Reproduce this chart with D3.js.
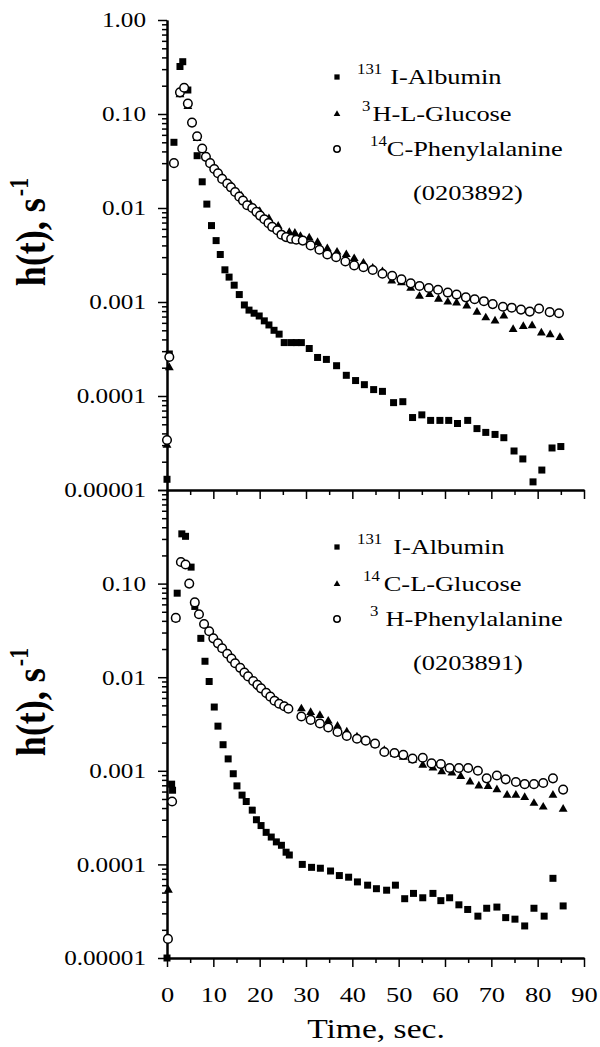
<!DOCTYPE html>
<html>
<head>
<meta charset="utf-8">
<script src="https://cdn.jsdelivr.net/npm/d3@7"></script>
<style>
  body { margin: 0; background: #fff; }
  svg { display: block; }
</style>
</head>
<body>
<div id="chart"></div>
<script>
// ---- data (time in s, h(t) in 1/s) ----

// upper panel, run 0203892
const albTopT = [0, 0.5, 1.5, 2.8, 3.4, 4.5, 6.5, 7.6, 8.6, 9.6, 10.6, 11.5, 12.5, 13.4, 14.5, 15.6, 16.7, 17.7, 18.8, 19.9, 21, 22, 23.1, 24.2, 25.3, 26.8, 27.9, 29, 30.7, 32.5, 34.4, 36.6, 38.7, 40.7, 42.6, 44.6, 46.5, 48.9, 50.9, 53, 55, 56.9, 58.9, 60.8, 62.7, 64.9, 66.9, 68.8, 70.8, 72.7, 74.9, 76.8, 79, 80.9, 83.1, 85]
const albTopV = [1.3e-5, 2.8e-4, 0.05, 0.32, 0.36, 0.18, 0.036, 0.019, 0.011, 0.0065, 0.0045, 0.0032, 0.0022, 0.00184, 0.00151, 0.0012, 0.00093, 0.00082, 0.00076, 0.00071, 0.00063, 0.00057, 0.0005, 0.000455, 0.00037, 0.00037, 0.00037, 0.00037, 0.00032, 0.000257, 0.000245, 0.00021, 0.000166, 0.000146, 0.000132, 0.000117, 0.000112, 0.000085, 0.000087, 0.000059, 0.000063, 0.000055, 0.000055, 0.000055, 0.000051, 0.000055, 0.000045, 0.000041, 0.000039, 0.000036, 0.000026, 0.0000214, 0.0000122, 0.0000163, 0.000028, 0.000029]

const gluTopT = [0, 0.5, 2.8, 4.5, 6.5, 8.4, 10.2, 12, 14, 16, 18, 20, 22, 24, 26.4, 27.6, 28.8, 30.7, 32.5, 34.6, 36.7, 38.7, 40.4, 42.4, 44.4, 46.5, 48.5, 50.6, 52.6, 54.5, 56.7, 58.6, 60.6, 62.5, 64.7, 66.9, 68.8, 70.8, 72.7, 74.7, 76.9, 78.8, 80.8, 82.7, 84.8]
const gluTopV = [3.0e-5, 2.0e-4, 0.16, 0.12, 0.055, 0.035, 0.026, 0.021, 0.017, 0.0135, 0.011, 0.0092, 0.0077, 0.0064, 0.0055, 0.0054, 0.0050, 0.0048, 0.0043, 0.0037, 0.0034, 0.0032, 0.0029, 0.0026, 0.0023, 0.0021, 0.00167, 0.0016, 0.0014, 0.00115, 0.0012, 0.00107, 0.001, 0.00098, 0.00091, 0.00078, 0.00068, 0.00063, 0.00071, 0.00051, 0.00055, 0.00056, 0.00047, 0.00045, 0.00042]

const pheTopT = [0, 0.5, 1.5, 2.8, 3.7, 4.5, 5.4, 6.5, 7.6, 8.4, 9.3, 10.2, 11, 11.9, 13, 13.8, 14.7, 15.6, 16.4, 17.3, 18.4, 19.3, 20.1, 21, 21.9, 22.7, 23.8, 24.7, 25.7, 26.8, 27.9, 29.3, 31, 32.9, 34.6, 36.5, 38.5, 40.4, 42.4, 44.4, 46.5, 48.6, 50.6, 52.6, 54.5, 56.5, 58.5, 60.6, 62.5, 64.5, 66.4, 68.4, 70.3, 72.5, 74.4, 76.4, 78.3, 80.3, 82.6, 84.6]
const pheTopV = [3.4e-5, 2.6e-4, 0.030, 0.17, 0.19, 0.129, 0.081, 0.058, 0.043, 0.035, 0.030, 0.026, 0.0234, 0.0204, 0.0182, 0.0166, 0.0148, 0.0132, 0.012, 0.0107, 0.0100, 0.0091, 0.0083, 0.0076, 0.0069, 0.0063, 0.0058, 0.0052, 0.0049, 0.0047, 0.0046, 0.0045, 0.0040, 0.0036, 0.0032, 0.0030, 0.0027, 0.00245, 0.00234, 0.00219, 0.0020, 0.0019, 0.00174, 0.00158, 0.00148, 0.00141, 0.00135, 0.00126, 0.0012, 0.00112, 0.00107, 0.00102, 0.00095, 0.00089, 0.00087, 0.00083, 0.00079, 0.00085, 0.00078, 0.00076]

// lower panel, run 0203891
const albBotT = [0, 1.0, 1.2, 2.2, 3.2, 4.0, 5.2, 6.0, 7.3, 8.2, 9.1, 10.2, 11, 12.1, 13.2, 14.3, 15.1, 16.2, 17.1, 18.4, 19.3, 20.3, 21.4, 22.5, 23.6, 24.7, 25.7, 26.4, 29.2, 31.2, 33.1, 35.3, 37.2, 39.2, 41.1, 43.3, 45.2, 47.4, 49.3, 51.3, 53.2, 55.2, 57.4, 59.1, 61, 63, 64.9, 67.1, 69, 71.2, 73.1, 75.1, 77.2, 79.2, 81.4, 83.3, 85.5]
const albBotV = [1.0e-5, 7.2e-4, 6.2e-4, 0.079, 0.34, 0.32, 0.15, 0.057, 0.026, 0.0148, 0.0090, 0.0048, 0.0030, 0.0019, 0.00134, 0.00093, 0.00069, 0.00055, 0.00047, 0.00038, 0.00030, 0.00026, 0.00022, 0.000196, 0.000174, 0.00016, 0.000135, 0.000126, 0.0001, 0.000093, 0.000091, 0.000085, 0.000076, 0.000073, 0.000065, 0.00006, 0.000055, 0.000053, 0.00006, 0.000043, 0.000049, 0.000044, 0.000049, 0.000041, 0.000044, 0.000037, 0.000033, 0.000028, 0.000034, 0.000035, 0.000027, 0.000026, 0.000022, 0.000034, 0.000028, 0.000071, 0.000036]

const gluBotT = [0.3, 1.9, 3.0, 4.8, 6.0, 8, 10, 12, 14, 16, 18, 20, 22, 24, 25.3, 29, 31, 33, 34.8, 36.8, 38.8, 41, 42.9, 44.9, 46.9, 49.1, 51, 53, 55.2, 57.4, 59.3, 61.5, 63.4, 65.4, 67.3, 69.3, 71.2, 73.4, 75.3, 77.2, 79.2, 81.2, 83.3, 85.5]
const gluBotV = [5.3e-5, 0.042, 0.17, 0.10, 0.062, 0.037, 0.026, 0.020, 0.016, 0.0125, 0.0097, 0.0078, 0.0064, 0.0054, 0.0049, 0.0046, 0.0042, 0.0039, 0.0034, 0.0030, 0.0026, 0.0023, 0.0021, 0.0019, 0.00165, 0.0015, 0.0014, 0.0013, 0.00115, 0.00107, 0.00098, 0.00095, 0.00087, 0.00076, 0.00069, 0.00068, 0.00063, 0.00055, 0.00055, 0.00052, 0.00045, 0.00041, 0.00055, 0.00039]

const pheBotT = [0.2, 1.1, 1.9, 3.0, 4.0, 4.8, 6.0, 6.9, 8.0, 9.1, 10, 11, 11.9, 13, 13.9, 14.7, 15.8, 16.7, 17.5, 18.6, 19.5, 20.3, 21.4, 22.3, 23.2, 24.2, 25.3, 26.2, 29, 31, 33, 34.8, 36.8, 38.8, 41, 42.9, 44.9, 46.9, 49.1, 51, 53, 55.2, 57.1, 59.1, 61, 63, 65, 67.1, 69, 71.2, 73.1, 75.3, 77.2, 79.2, 81.2, 83.3, 85.5]
const pheBotV = [1.6e-5, 4.7e-4, 0.043, 0.17, 0.16, 0.10, 0.063, 0.047, 0.037, 0.031, 0.026, 0.023, 0.0204, 0.0178, 0.0158, 0.0141, 0.0126, 0.0112, 0.0102, 0.0091, 0.0083, 0.0076, 0.0068, 0.0062, 0.0056, 0.0052, 0.0049, 0.0046, 0.0038, 0.0035, 0.0032, 0.0029, 0.0026, 0.00236, 0.0022, 0.0021, 0.00195, 0.00159, 0.00155, 0.00148, 0.00135, 0.00138, 0.0012, 0.00118, 0.00107, 0.00107, 0.00107, 0.001, 0.00083, 0.00089, 0.00081, 0.00076, 0.00072, 0.00072, 0.00074, 0.00083, 0.00063]

// legend text: [superscript, name]
const legendTop = [['131', 'I-Albumin'], ['3', 'H-L-Glucose'], ['14', 'C-Phenylalanine']]
const legendBot = [['131', 'I-Albumin'], ['14', 'C-L-Glucose'], ['3', 'H-Phenylalanine']]
const runTop = '(0203892)'
const runBot = '(0203891)'

// axis ticks
const xMajor = [0, 10, 20, 30, 40, 50, 60, 70, 80, 90]
const xMinor = [5, 15, 25, 35, 45, 55, 65, 75, 85]
const yMajor = [1, 0.1, 0.01, 0.001, 0.0001, 0.00001]
const yMajorText = ['1.00', '0.10', '0.01', '0.001', '0.0001', '0.00001']
const yMinor = [2, 3, 4, 5, 6, 7, 8, 9].flatMap(k => [1e-5, 1e-4, 1e-3, 1e-2, 1e-1].map(d => k * d))

// ---- drawing ----
const W = 600, H = 1047
const SX = 1.2   // the scanned original is stretched sideways, text follows it
const FONT = '"Liberation Serif", "Times New Roman", Times, serif'

const svg = d3.select('#chart').append('svg')
  .attr('width', W).attr('height', H)
  .style('background', '#fff')

const x = d3.scaleLinear().domain([0, 90]).range([167, 584])

const panels = [
  {
    top: 20, bottom: 490, showTop: true, xLabels: false,
    legend: legendTop, run: runTop,
    legendGap: [8, 2, 0],
    series: [
      { shape: 'square', t: albTopT, v: albTopV },
      { shape: 'triangle', t: gluTopT, v: gluTopV },
      { shape: 'circle', t: pheTopT, v: pheTopV },
    ]
  },
  {
    top: 490, bottom: 958, showTop: false, xLabels: true,
    legend: legendBot, run: runBot,
    legendGap: [11, 4, 7],
    series: [
      { shape: 'square', t: albBotT, v: albBotV },
      { shape: 'triangle', t: gluBotT, v: gluBotV },
      { shape: 'circle', t: pheBotT, v: pheBotV },
    ]
  }
]
const supX = [[357, 362, 370], [357, 363, 370]]

function drawMark(g, shape, cx, cy, s) {
  if (shape === 'circle') {
    g.append('circle').attr('cx', cx).attr('cy', cy).attr('r', 4.3 * s)
      .attr('fill', '#fff').attr('stroke', '#000').attr('stroke-width', 1.5)
  } else {
    const sym = shape === 'square' ? d3.symbolSquare : d3.symbolTriangle
    const size = shape === 'square' ? 49 : 34
    g.append('path').attr('d', d3.symbol(sym, size * s * s)())
      .attr('transform', `translate(${cx},${cy})`).attr('fill', '#000')
  }
}

function styleAxis(a) {
  a.select('.domain').attr('stroke', '#000').attr('stroke-width', 2)
  a.selectAll('.tick line').attr('stroke', '#000').attr('stroke-width', 1.5)
  a.attr('font-family', FONT)
}

panels.forEach((p, pi) => {
  const y = d3.scaleLog().domain([1e-5, 1]).range([p.bottom, p.top])
  const g = svg.append('g')

  // y axis
  styleAxis(g.append('g').attr('transform', `translate(${x(0)},0)`)
    .call(d3.axisLeft(y).tickValues(yMinor).tickSize(5).tickFormat('').tickSizeOuter(0)))
  const ya = g.append('g').attr('transform', `translate(${x(0)},0)`)
    .call(d3.axisLeft(y).tickValues(yMajor).tickSize(9).tickSizeOuter(0)
      .tickFormat((d, i) => (d === 1 && !p.showTop) ? '' : yMajorText[i]))
  styleAxis(ya)
  ya.selectAll('.tick text')
    .attr('x', 0).attr('dy', '0.33em').attr('font-size', 21).attr('fill', '#000')
    .attr('transform', `translate(-21,0) scale(${SX},1)`)

  // x axis
  styleAxis(g.append('g').attr('transform', `translate(0,${p.bottom})`)
    .call(d3.axisBottom(x).tickValues(xMinor).tickSize(5).tickFormat('').tickSizeOuter(0)))
  const xa = g.append('g').attr('transform', `translate(0,${p.bottom})`)
    .call(d3.axisBottom(x).tickValues(xMajor).tickSize(9).tickSizeOuter(0)
      .tickFormat(d => p.xLabels ? d : ''))
  styleAxis(xa)
  xa.selectAll('.tick text')
    .attr('y', 0).attr('dy', 0).attr('font-size', 22).attr('fill', '#000')
    .attr('transform', `translate(0,44) scale(${SX},1)`)

  // points: squares first, circles (white filled) last
  p.series.forEach(s => {
    const sg = g.append('g')
    s.t.forEach((t, i) => drawMark(sg, s.shape, x(t), y(s.v[i]), 1))
  })

  // legend
  const rowY = [57, 94, 129]
  p.legend.forEach((lab, i) => {
    const ly = p.top + rowY[i]
    drawMark(g, p.series[i].shape, 337, ly, 0.75)
    const lt = g.append('text')
      .attr('transform', `translate(${supX[pi][i]},${ly + 7}) scale(${SX},1)`)
      .attr('font-family', FONT)
    lt.append('tspan').attr('dy', -10).attr('font-size', 14).text(lab[0])
    lt.append('tspan').attr('dy', 10).attr('dx', p.legendGap[i] / SX)
      .attr('font-size', 22).text(lab[1])
  })
  g.append('text')
    .attr('transform', `translate(413,${p.top + 180}) scale(${SX},1)`)
    .attr('font-family', FONT).attr('font-size', 22).text(p.run)

  // y title
  const yt = g.append('text')
    .attr('transform', `translate(45,${p.top + 212}) rotate(-90) scale(1,${SX})`)
    .attr('text-anchor', 'middle')
    .attr('font-family', FONT).attr('font-size', 36).attr('font-weight', 'bold')
  yt.append('tspan').text('h(t), s')
  yt.append('tspan').attr('dy', -14).attr('dx', 2).attr('font-size', 22).text('-1')
})

// x title
svg.append('text')
  .attr('transform', `translate(376,1038) scale(${SX},1)`)
  .attr('text-anchor', 'middle')
  .attr('font-family', FONT).attr('font-size', 28)
  .text('Time, sec.')
</script>
</body>
</html>
